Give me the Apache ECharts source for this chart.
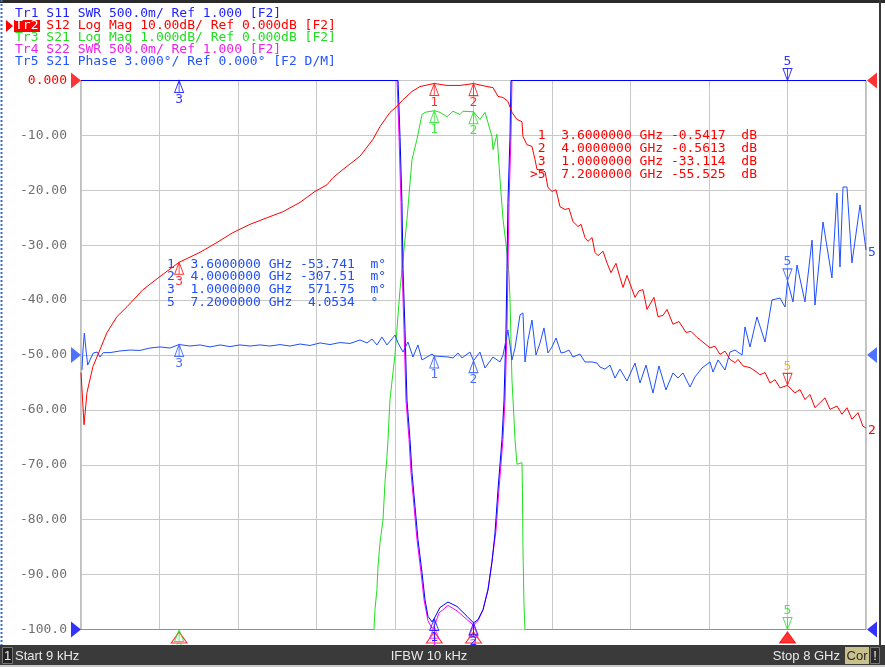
<!DOCTYPE html>
<html><head><meta charset="utf-8">
<script src="https://cdn.jsdelivr.net/npm/echarts/dist/echarts.min.js"></script>
<style>html,body{margin:0;padding:0;background:#fff;overflow:hidden}#c{width:885px;height:667px}</style>
</head><body><div id="c"></div>
<script>
// ---------------- DATA ----------------
// frequency in GHz
const freqStart = 0, freqStop = 8, freqStep = 0.8;

// Tr2 S12 Log Mag (dB)
const s12Data = [[0.000009,-53.2],[0.031,-62.7],[0.061,-56.8],[0.122,-52.1],[0.194,-49.0],[0.265,-45.9],[0.367,-43.0],[0.469,-41.2],[0.632,-38.1],[0.805,-35.7],[1.0,-33.114],[1.213,-31.3],[1.386,-29.5],[1.549,-27.7],[1.722,-26.2],[1.895,-25.0],[2.058,-23.9],[2.232,-22.2],[2.385,-20.2],[2.507,-19.0],[2.568,-17.7],[2.670,-16.2],[2.843,-13.8],[2.976,-10.7],[3.047,-8.4],[3.149,-5.8],[3.220,-4.7],[3.282,-3.5],[3.373,-2.0],[3.455,-1.1],[3.6,-0.5417],[3.730,-0.9],[3.862,-0.9],[4.0,-0.5613],[4.138,-1.1],[4.199,-1.3],[4.250,-2.9],[4.301,-3.1],[4.351,-3.8],[4.392,-5.8],[4.443,-7.1],[4.494,-7.5],[4.504,-10.2],[4.545,-11.7],[4.596,-12.0],[4.627,-14.4],[4.647,-16.2],[4.729,-16.6],[4.759,-19.5],[4.800,-20.2],[4.841,-19.9],[4.882,-23.0],[4.933,-23.5],[4.973,-23.3],[5.014,-25.7],[5.065,-26.6],[5.096,-26.2],[5.136,-28.6],[5.167,-29.3],[5.208,-28.6],[5.238,-31.3],[5.269,-31.9],[5.320,-31.1],[5.360,-33.2],[5.401,-35.0],[5.452,-33.3],[5.493,-35.9],[5.524,-37.7],[5.564,-35.5],[5.646,-39.5],[5.687,-38.3],[5.727,-38.1],[5.768,-41.7],[5.839,-39.5],[5.880,-43.0],[5.931,-42.8],[5.972,-41.7],[6.033,-44.4],[6.094,-43.9],[6.166,-45.9],[6.217,-45.7],[6.278,-46.8],[6.308,-47.2],[6.410,-48.7],[6.461,-48.4],[6.512,-49.9],[6.563,-49.3],[6.614,-50.8],[6.665,-51.4],[6.696,-50.8],[6.747,-52.0],[6.818,-52.3],[6.869,-52.9],[6.920,-53.6],[6.971,-53.2],[7.022,-55.1],[7.073,-54.5],[7.124,-56.0],[7.2,-55.525],[7.276,-56.9],[7.327,-56.3],[7.378,-58.1],[7.429,-57.2],[7.480,-59.6],[7.531,-58.7],[7.582,-57.8],[7.633,-59.9],[7.705,-59.3],[7.755,-60.8],[7.806,-59.6],[7.857,-61.7],[7.918,-60.5],[7.969,-63.0],[8.0,-63.3]];

// Tr3 S21 Log Mag (dB, 1 dB/div)
const s21Data = [[0.000009,-10],[2.986,-10],[2.996,-9.64],[3.016,-9.27],[3.027,-8.85],[3.047,-8.42],[3.078,-8.0],[3.098,-7.32],[3.118,-6.85],[3.129,-6.54],[3.149,-5.81],[3.2,-4.99],[3.251,-3.81],[3.322,-2.53],[3.373,-1.44],[3.424,-1.07],[3.475,-0.62],[3.506,-0.58],[3.6,-0.55],[3.659,-0.58],[3.730,-0.66],[3.791,-0.56],[3.862,-0.62],[3.893,-0.56],[4.0,-0.57],[4.066,-0.71],[4.117,-0.58],[4.148,-0.77],[4.188,-1.02],[4.199,-1.26],[4.239,-0.98],[4.270,-1.80],[4.301,-2.53],[4.341,-3.13],[4.362,-3.53],[4.372,-3.99],[4.382,-4.72],[4.392,-5.45],[4.413,-6.17],[4.423,-6.54],[4.443,-6.99],[4.494,-6.96],[4.499,-7.45],[4.504,-8.49],[4.514,-9.51],[4.524,-10],[8.0,-10]];

// Tr1 S11 SWR
const s11Data = [[0.000009,6],[3.231,6],[3.251,5.49],[3.271,4.89],[3.282,4.28],[3.302,3.73],[3.322,3.09],[3.353,2.73],[3.373,2.43],[3.404,2.12],[3.434,1.82],[3.475,1.52],[3.506,1.27],[3.536,1.12],[3.577,1.07],[3.6,1.10],[3.658,1.20],[3.740,1.25],[3.832,1.21],[3.934,1.12],[4.0,1.06],[4.046,1.09],[4.097,1.18],[4.148,1.36],[4.188,1.61],[4.219,1.88],[4.250,2.28],[4.290,2.73],[4.311,3.09],[4.331,3.73],[4.341,4.28],[4.351,4.89],[4.372,5.49],[4.382,6],[8.0,6]];

// Tr4 S22 SWR
const s22Data = [[0.000009,6],[3.221,6],[3.241,5.49],[3.261,4.89],[3.272,4.28],[3.292,3.73],[3.312,3.09],[3.343,2.73],[3.363,2.43],[3.394,2.12],[3.424,1.82],[3.465,1.52],[3.496,1.27],[3.536,1.08],[3.577,1.01],[3.6,1.03],[3.648,1.15],[3.740,1.22],[3.832,1.17],[3.934,1.09],[4.0,1.04],[4.046,1.08],[4.097,1.18],[4.148,1.37],[4.188,1.62],[4.229,1.90],[4.260,2.28],[4.300,2.73],[4.321,3.09],[4.341,3.73],[4.351,4.28],[4.362,4.89],[4.382,5.49],[4.392,6],[8.0,6]];

// Tr5 S21 Phase (deg, 3 deg/div)
const phaseData = [[0.010,-0.82],[0.020,0.27],[0.034,1.20],[0.051,0.27],[0.068,-0.55],[0.092,-0.27],[0.125,0.11],[0.166,0.16],[0.194,-0.11],[0.227,0.13],[0.296,0.13],[0.397,0.22],[0.499,0.27],[0.601,0.25],[0.703,0.38],[0.805,0.44],[0.907,0.38],[1.0,0.57175],[1.111,0.49],[1.213,0.55],[1.315,0.44],[1.417,0.55],[1.518,0.46],[1.620,0.55],[1.722,0.49],[1.824,0.55],[1.926,0.49],[2.028,0.57],[2.130,0.49],[2.232,0.60],[2.334,0.52],[2.436,0.66],[2.538,0.57],[2.639,0.68],[2.741,0.63],[2.843,0.82],[2.915,0.66],[2.966,0.87],[3.016,0.55],[3.067,0.98],[3.118,0.55],[3.200,1.09],[3.231,0.66],[3.282,0.16],[3.332,0.71],[3.383,-0.11],[3.434,0.55],[3.475,-0.27],[3.526,-0.11],[3.577,0.05],[3.6,-0.053741],[3.740,-0.11],[3.791,-0.16],[3.842,0.11],[3.883,-0.16],[3.964,0.16],[4.0,-0.30751],[4.066,0.16],[4.117,-0.71],[4.199,-0.11],[4.270,-0.38],[4.301,0.0],[4.351,1.37],[4.392,-0.27],[4.423,0.38],[4.474,2.19],[4.504,2.30],[4.525,-0.38],[4.555,0.82],[4.596,1.91],[4.637,0.0],[4.678,0.66],[4.718,1.48],[4.759,0.11],[4.800,0.44],[4.841,0.93],[4.892,0.11],[4.932,0.16],[4.973,0.27],[5.014,-0.11],[5.085,0.05],[5.136,-0.38],[5.208,-0.38],[5.259,-0.44],[5.289,-0.66],[5.340,-0.77],[5.391,-0.55],[5.442,-1.26],[5.493,-0.77],[5.564,-1.42],[5.646,-0.44],[5.697,-1.53],[5.758,-0.55],[5.829,-2.08],[5.890,-0.60],[5.961,-1.91],[6.033,-0.98],[6.084,-1.26],[6.135,-0.98],[6.206,-1.75],[6.257,-1.20],[6.329,-0.71],[6.410,-0.38],[6.441,-0.93],[6.492,-0.27],[6.563,-0.82],[6.614,0.16],[6.665,0.27],[6.737,0.0],[6.767,1.53],[6.818,0.44],[6.889,2.08],[6.971,0.71],[7.042,3.01],[7.124,3.11],[7.175,2.62],[7.2,4.0534],[7.256,2.90],[7.297,4.92],[7.378,2.90],[7.450,6.28],[7.480,2.73],[7.562,7.27],[7.653,4.21],[7.704,8.85],[7.735,4.81],[7.766,9.18],[7.806,9.18],[7.857,5.03],[7.939,8.20],[8.0,5.74]];

// markers
const markerNames = ['1','2','3','5'];
const markerFreqs = [3.6, 4.0, 1.0, 7.2];
const activeMarker = '5';
const s12MarkerVals = [-0.5417, -0.5613, -33.114, -55.525];
const phaseMarkerVals = [-0.053741, -0.30751, 0.57175, 4.0534];
const s21MarkerVals = [-0.55, -0.57, -10, -10];
const s11MarkerVals = [1.10, 1.06, 6, 6];
const s22MarkerVals = [1.03, 1.04, 6, 6];

// axis tick labels (left scale, Tr2)
const yTickVals = [0,-10,-20,-30,-40,-50,-60,-70,-80,-90,-100];
const yTickLabels = ['0.000','-10.00','-20.00','-30.00','-40.00','-50.00','-60.00','-70.00','-80.00','-90.00','-100.0'];

// header & status texts
const headerTexts = [
  ['Tr1','S11 SWR 500.0m/ Ref 1.000 [F2]'],
  ['Tr2','S12 Log Mag 10.00dB/ Ref 0.000dB [F2]'],
  ['Tr3','S21 Log Mag 1.000dB/ Ref 0.000dB [F2]'],
  ['Tr4','S22 SWR 500.0m/ Ref 1.000 [F2]'],
  ['Tr5','S21 Phase 3.000°/ Ref 0.000° [F2 D/M]']
];
const statusTexts = {channel:'1', start:'Start 9 kHz', ifbw:'IFBW 10 kHz', stop:'Stop 8 GHz', cor:'Cor', warn:'!'};

// ---------------- STYLE ----------------
const RED='#ff0000', GREEN='#1ee01e', BLUE='#0000ff', PHB='#1f4fff', MAG='#ff00ff';
const headerColors = ['#2222ff', RED, '#22dd22', '#ee22ee', '#2255ff'];
const MONO = '"DejaVu Sans Mono", monospace';
const SANS = '"Liberation Sans", Arial, sans-serif';

const G = {left:81, top:80.5, width:785, height:549};

const upPath = 'path://M4,0L0,12L8,12Z M4,0L4,12';
const downPath = 'path://M0,0L8,0L4,12Z M4,0L4,12';

function lineSeries(data, yIdx, color, z, endText) {
  const s = {type:'line', data, yAxisIndex:yIdx, symbol:'none', showSymbol:false, z,
    lineStyle:{color, width:1}, itemStyle:{color}, silent:true, animation:false};
  if (endText) s.endLabel = {show:true, formatter:endText, color, fontFamily:MONO, fontSize:13, distance:2, offset:[0,3]};
  return s;
}
function markerSeries(yIdx, vals, color, labelColor, idxs, z, activeLabelColor) {
  return {type:'scatter', yAxisIndex:yIdx, clip:false, z, silent:true, animation:false,
    itemStyle:{color:'rgba(0,0,0,0)', borderColor:color, borderWidth:1},
    data: idxs.map(i => {
      const act = markerNames[i] === activeMarker;
      return {value:[markerFreqs[i], vals[i]],
        symbol: act ? downPath : upPath, symbolSize:[9,12], symbolOffset:[0, act ? -6 : 6],
        label:{show:true, position: act ? 'top' : 'bottom', distance:0, formatter: markerNames[i],
          color: act && activeLabelColor ? activeLabelColor : labelColor, fontFamily:MONO, fontSize:13}};
    })};
}
function refArrows(yIdx, val, color) {
  return {type:'scatter', yAxisIndex:yIdx, clip:false, z:20, silent:true, animation:false,
    itemStyle:{color},
    data:[
      {value:[freqStart,val], symbol:'path://M0,0L10,8L0,16Z', symbolSize:[10,16], symbolOffset:[-5,0]},
      {value:[freqStop,val], symbol:'path://M10,0L0,8L10,16Z', symbolSize:[10,16], symbolOffset:[6,0]}
    ]};
}

const fmtFreq = f => f.toFixed(7);
const fmtDb = v => { let s = v.toPrecision(5); if (s.length > 7) s = s.slice(0,7); return s; };
const fmtPh = v => Math.abs(v) < 1 ? [(v*1000).toPrecision(5), 'm°'] : [v.toPrecision(5), '°'];

// ---------------- GRAPHICS ----------------
const graphic = [];
// frame
graphic.push({type:'rect', shape:{x:0,y:0,width:885,height:3}, style:{fill:'#2b2b2b'}, z:50});
graphic.push({type:'line', shape:{x1:1.5,y1:0,x2:1.5,y2:645}, style:{stroke:'#3b6fd6', lineWidth:2, lineDash:[2,2]}, z:50});
graphic.push({type:'rect', shape:{x:879,y:0,width:2,height:645}, style:{fill:'#3a3a3a'}, z:50});
// header
headerTexts.forEach((h,i) => {
  const y = 14 + i*12;
  if (i === 1) {
    graphic.push({type:'polygon', shape:{points:[[6,y-6],[13,y],[6,y+6]]}, style:{fill:RED}, z:50});
    graphic.push({type:'rect', shape:{x:14,y:y-6,width:26,height:12}, style:{fill:RED}, z:50});
  }
  graphic.push({type:'text', x:15, y, z:51, style:{text:h[0], font:'13px '+MONO, fill: i===1 ? '#ffffff' : headerColors[i], textVerticalAlign:'middle'}});
  graphic.push({type:'text', x:15+4*7.83, y, z:51, style:{text:h[1], font:'13px '+MONO, fill: headerColors[i], textVerticalAlign:'middle'}});
});
// marker readouts: S12 (red)
markerNames.forEach((n,i) => {
  const pre = n === activeMarker ? '>' : ' ';
  const line = pre + n + '  ' + fmtFreq(markerFreqs[i]) + ' GHz ' + fmtDb(s12MarkerVals[i]).padStart(7) + '  dB';
  graphic.push({type:'text', x:530, y:136 + i*13, z:40, style:{text:line, font:'13px '+MONO, fill:RED, textVerticalAlign:'middle'}});
});
// marker readouts: phase (blue)
markerNames.forEach((n,i) => {
  const p = fmtPh(phaseMarkerVals[i]);
  const line = n + '  ' + fmtFreq(markerFreqs[i]) + ' GHz ' + p[0].padStart(7) + '  ' + p[1];
  graphic.push({type:'text', x:167, y:264.5 + i*12.6, z:40, style:{text:line, font:'13px '+MONO, fill:PHB, textVerticalAlign:'middle'}});
});
// status bar
graphic.push({type:'rect', shape:{x:0,y:645,width:885,height:20}, style:{fill:'#3a3a3a'}, z:60});
graphic.push({type:'rect', shape:{x:0,y:665,width:885,height:2}, style:{fill:'#c8c8c8'}, z:60});
graphic.push({type:'rect', shape:{x:2.5,y:647.5,width:10,height:16}, style:{fill:'#222', stroke:'#777', lineWidth:1}, z:61});
graphic.push({type:'text', x:7.5, y:656, z:62, style:{text:statusTexts.channel, font:'13px '+SANS, fill:'#e8e8e8', textAlign:'center', textVerticalAlign:'middle'}});
graphic.push({type:'text', x:15, y:656, z:62, style:{text:statusTexts.start, font:'13px '+SANS, fill:'#e8e8e8', textVerticalAlign:'middle'}});
graphic.push({type:'text', x:429, y:656, z:62, style:{text:statusTexts.ifbw, font:'13px '+SANS, fill:'#e8e8e8', textAlign:'center', textVerticalAlign:'middle'}});
graphic.push({type:'text', x:840, y:656, z:62, style:{text:statusTexts.stop, font:'13px '+SANS, fill:'#e8e8e8', textAlign:'right', textVerticalAlign:'middle'}});
graphic.push({type:'rect', shape:{x:845,y:647,width:24,height:17}, style:{fill:'#c9c18c'}, z:61});
graphic.push({type:'text', x:857, y:656, z:62, style:{text:statusTexts.cor, font:'13px '+SANS, fill:'#2a2a2a', textAlign:'center', textVerticalAlign:'middle'}});
graphic.push({type:'rect', shape:{x:870.5,y:647.5,width:9,height:16}, style:{fill:'#2a2a2a', stroke:'#777', lineWidth:1}, z:61});
graphic.push({type:'text', x:875, y:656, z:62, style:{text:statusTexts.warn, font:'13px '+SANS, fill:'#e8e8e8', textAlign:'center', textVerticalAlign:'middle'}});

// ---------------- CHART ----------------
const chart = echarts.init(document.getElementById('c'), null, {renderer:'canvas'});
const hidden = {show:false};
chart.setOption({
  animation:false,
  backgroundColor:'#ffffff',
  grid:{...G, show:true, borderColor:'#808080', borderWidth:1, backgroundColor:'rgba(0,0,0,0)', containLabel:false, outerBoundsMode:'none'},
  xAxis:{type:'value', min:freqStart, max:freqStop, interval:freqStep,
    axisLine:hidden, axisTick:hidden, axisLabel:hidden,
    splitLine:{show:true, lineStyle:{color:'#c8c8c8', width:1}}},
  yAxis:[
    {type:'value', min:-100, max:0, interval:10, position:'left',
      axisLine:hidden, axisTick:hidden,
      splitLine:{show:true, lineStyle:{color:'#c8c8c8', width:1}},
      axisLabel:{show:true, margin:14, fontFamily:MONO, fontSize:13,
        formatter: v => { const k = yTickVals.indexOf(Math.round(v)); return k >= 0 ? yTickLabels[k] : ''; },
        color: v => Math.round(Number(v)) === 0 ? RED : '#707070'}},
    {type:'value', min:-10, max:0, show:false, splitLine:hidden},
    {type:'value', min:1, max:6, show:false, splitLine:hidden},
    {type:'value', min:-15, max:15, show:false, splitLine:hidden}
  ],
  graphic,
  series:[
    lineSeries(s21Data, 1, GREEN, 3),
    lineSeries(s22Data, 2, MAG, 4),
    lineSeries(s11Data, 2, BLUE, 5),
    lineSeries(phaseData, 3, PHB, 6, '5'),
    lineSeries(s12Data, 0, RED, 7, '2'),
    // stimulus indicators below the grid (active trace markers)
    {type:'scatter', yAxisIndex:0, clip:false, z:8, silent:true, animation:false,
      data: markerFreqs.map((f,i) => {
        const act = markerNames[i] === activeMarker;
        return {value:[f,-100], symbol:'triangle', symbolSize:[16,11], symbolOffset:[0,8],
          itemStyle: act ? {color:RED, borderColor:RED, borderWidth:1} : {color:'rgba(0,0,0,0)', borderColor:RED, borderWidth:1}};
      })},
    markerSeries(2, s22MarkerVals, MAG, MAG, [0,1], 9),
    markerSeries(2, s11MarkerVals, BLUE, BLUE, [0,1,2,3], 10),
    markerSeries(1, s21MarkerVals, GREEN, GREEN, [0,1,2,3], 10),
    markerSeries(3, phaseMarkerVals, PHB, PHB, [0,1,2,3], 11),
    markerSeries(0, s12MarkerVals, RED, RED, [0,1,2,3], 12, '#f0a000'),
    refArrows(0, 0, RED),
    refArrows(3, 0, PHB),
    refArrows(2, 1, BLUE)
  ]
});
</script></body></html>
